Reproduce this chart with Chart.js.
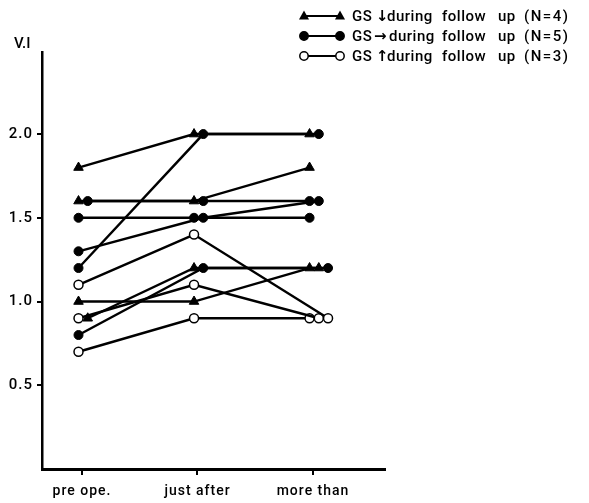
<!DOCTYPE html>
<html>
<head>
<meta charset="utf-8">
<script src="https://cdn.jsdelivr.net/npm/chart.js@4"></script>
<style>
  html, body { margin: 0; padding: 0; background: #fff; }
  #wrap { width: 589px; height: 503px; }
</style>
</head>
<body>
<div id="wrap"><canvas id="chart" width="589" height="503"></canvas></div>
<script>
// time points and y ticks
const CATEGORIES = ['pre ope.', 'just after', 'more than'];
const Y_TICKS = [0.5, 1.0, 1.5, 2.0];

// V.I per patient: pre ope / just after / more than
const GS_DOWN = [[1.8, 2.0, 2.0], [1.6, 1.6, 1.8], [1.0, 1.0, 1.2], [0.9, 1.2, 1.2]];
const GS_SAME = [[1.2, 2.0, 2.0], [1.6, 1.6, 1.6], [1.5, 1.5, 1.5], [1.3, 1.5, 1.6], [0.8, 1.2, 1.2]];
const GS_UP = [[1.1, 1.4, 0.9], [0.9, 1.1, 0.9], [0.7, 0.9, 0.9]];

// which side-by-side slot a marker takes when values coincide
const GS_DOWN_SLOT = [[0, 0, 0], [0, 0, 0], [0, 0, 0], [1, 0, 1]];
const GS_SAME_SLOT = [[0, 1, 1], [1, 1, 0], [0, 0, 0], [0, 1, 1], [0, 1, 2]];
const GS_UP_SLOT = [[0, 0, 2], [0, 0, 1], [0, 0, 0]];

const SLOT_SHIFT = [-0.03, 0.05, 0.13];
const INK = '#000';
const FONT = 'Roboto, "Liberation Sans", Arial, sans-serif';

const toPoints = (vals, slots) => vals.map((v, i) => ({ x: i + SLOT_SHIFT[slots[i]], y: v }));

const styles = {
  down: { pointStyle: 'triangle', pointRadius: 5.5, pointBackgroundColor: INK, pointBorderColor: INK, pointBorderWidth: 1 },
  same: { pointStyle: 'circle', pointRadius: 4.5, pointBackgroundColor: INK, pointBorderColor: INK, pointBorderWidth: 1 },
  up: { pointStyle: 'circle', pointRadius: 4.5, pointBackgroundColor: '#fff', pointBorderColor: INK, pointBorderWidth: 1.5 },
};

const datasets = [];
// first dataset ends up on top, so the open circles go first
GS_UP.forEach((v, i) => datasets.push({ data: toPoints(v, GS_UP_SLOT[i]), ...styles.up }));
GS_SAME.forEach((v, i) => datasets.push({ data: toPoints(v, GS_SAME_SLOT[i]), ...styles.same }));
GS_DOWN.forEach((v, i) => datasets.push({ data: toPoints(v, GS_DOWN_SLOT[i]), ...styles.down }));
datasets.forEach(d => Object.assign(d, { showLine: true, borderColor: INK, borderWidth: 2.4, pointHoverRadius: d.pointRadius }));

// legend with a short line between two markers, plus the "V.I" title
const LEGEND_ROWS = [
  { y: 16, marker: 'down', arrow: '↓', label: '(N=4)' },
  { y: 36, marker: 'same', arrow: '→', label: '(N=5)' },
  { y: 56, marker: 'up', arrow: '↑', label: '(N=3)' },
];

function drawMarker(ctx, kind, x, y) {
  ctx.beginPath();
  if (kind === 'down') {
    ctx.moveTo(x, y - 5.5);
    ctx.lineTo(x + 5, y + 3.5);
    ctx.lineTo(x - 5, y + 3.5);
    ctx.closePath();
    ctx.fillStyle = INK;
    ctx.fill();
  } else {
    ctx.arc(x, y, 4.2, 0, Math.PI * 2);
    ctx.fillStyle = kind === 'same' ? INK : '#fff';
    ctx.fill();
    ctx.lineWidth = 1.5;
    ctx.strokeStyle = INK;
    ctx.stroke();
  }
}

const extras = {
  id: 'extras',
  beforeDraw(chart) {
    // spaced-out tick lettering
    chart.ctx.letterSpacing = '1px';
  },
  afterDraw(chart) {
    const ctx = chart.ctx;
    ctx.save();
    ctx.letterSpacing = '0px';
    ctx.fillStyle = INK;
    ctx.font = `500 15px ${FONT}`;
    ctx.textBaseline = 'middle';
    ctx.fillText('V.I', 14, 44);
    LEGEND_ROWS.forEach(row => {
      const sideways = row.marker === 'same';
      ctx.beginPath();
      ctx.moveTo(304, row.y);
      ctx.lineTo(340, row.y);
      ctx.lineWidth = 2;
      ctx.strokeStyle = INK;
      ctx.stroke();
      drawMarker(ctx, row.marker, 304, row.y);
      drawMarker(ctx, row.marker, 340, row.y);
      ctx.fillStyle = INK;
      ctx.font = `500 15px ${FONT}`;
      ctx.letterSpacing = '0.5px';
      ctx.fillText('GS', 352, row.y + 1);
      ctx.fillText('during', sideways ? 389 : 387, row.y + 1);
      ctx.fillText('follow', 442, row.y + 1);
      ctx.fillText('up', 498, row.y + 1);
      ctx.letterSpacing = '1.5px';
      ctx.fillText(row.label, 524, row.y + 1);
      ctx.letterSpacing = '0px';
      ctx.font = `bold 15px "DejaVu Sans", sans-serif`;
      ctx.fillText(row.arrow, sideways ? 374 : 376, row.y + 1);
    });
    ctx.restore();
  },
};

new Chart(document.getElementById('chart'), {
  type: 'scatter',
  data: { datasets },
  options: {
    responsive: false,
    animation: false,
    events: [],
    layout: { padding: { top: 52, right: 204, left: 0, bottom: 0 } },
    plugins: { legend: { display: false }, tooltip: { enabled: false } },
    scales: {
      x: {
        type: 'linear',
        min: -0.346,
        max: 2.623,
        afterBuildTicks: s => { s.ticks = CATEGORIES.map((_, i) => ({ value: i })); },
        afterFit: s => { s.height = 34; },
        ticks: {
          color: INK,
          padding: 8,
          font: { family: FONT, size: 14, weight: '500' },
          callback: v => CATEGORIES[v],
        },
        grid: { drawOnChartArea: false, drawTicks: true, tickLength: 6, color: INK, lineWidth: 2 },
        border: { display: true, color: INK, width: 3 },
      },
      y: {
        min: 0,
        max: 2.49,
        afterBuildTicks: s => { s.ticks = Y_TICKS.map(v => ({ value: v })); },
        afterFit: s => { s.width = 42; },
        ticks: {
          color: INK,
          padding: 4,
          font: { family: FONT, size: 15, weight: '500' },
          callback: v => v.toFixed(1),
        },
        grid: { drawOnChartArea: false, drawTicks: true, tickLength: 5, color: INK, lineWidth: 2 },
        border: { display: true, color: INK, width: 2.5 },
      },
    },
  },
  plugins: [extras],
});
</script>
</body>
</html>
